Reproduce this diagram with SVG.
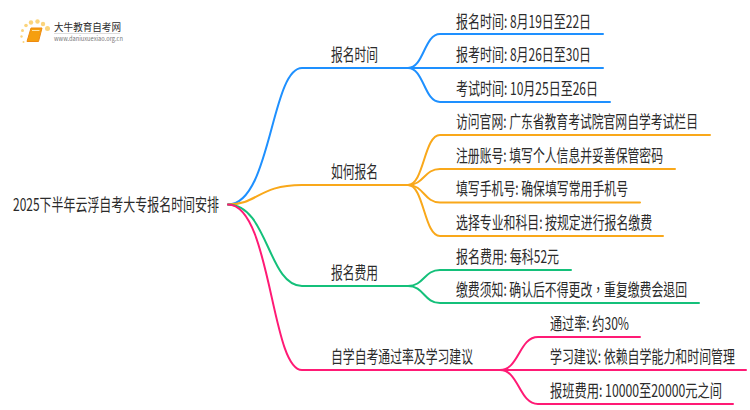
<svg xmlns="http://www.w3.org/2000/svg" width="750" height="410" viewBox="0 0 750 410">
<style>
text{font-family:"Noto Sans CJK SC","Noto Sans",sans-serif;font-size:17.5px;fill:#2b2b2b}
.c{fill:none;stroke-width:2;stroke-linecap:round}
.b{stroke:#1e90ff}.o{stroke:#f9a81a}.g{stroke:#14c07a}.p{stroke:#ff1a75}
</style>
<rect width="750" height="410" fill="#fff"/>
<g id="connectors">
<path class="c b" d="M228 204.500C271 204.500 271 68 302 68H408"/>
<path class="c o" d="M228 204.500C258 204.500 258 185 302 185H408"/>
<path class="c g" d="M228 204.500C268 204.500 268 286 302 286H408"/>
<path class="c p" d="M228 204.500C271 204.500 271 370 302 370H500"/>
<path class="c b" d="M408 68C424 68 424 34 440 34H603"/>
<path class="c b" d="M408 68H603"/>
<path class="c b" d="M408 68C424 68 424 102 440 102H610"/>
<path class="c o" d="M408 185C424 185 424 135 440 135H710"/>
<path class="c o" d="M408 185C424 185 424 169 440 169H675"/>
<path class="c o" d="M408 185C424 185 424 202.500 440 202.500H640"/>
<path class="c o" d="M408 185C424 185 424 236 440 236H663"/>
<path class="c g" d="M408 286C424 286 424 270 440 270H571"/>
<path class="c g" d="M408 286C424 286 424 303 440 303H699"/>
<path class="c p" d="M500 370C519 370 519 337 538 337H640"/>
<path class="c p" d="M500 370H746"/>
<path class="c p" d="M500 370C519 370 519 404 538 404H733"/>
</g>
<g id="logo">
<g fill="#fbd47c">
<circle cx="47.500" cy="28.500" r="2.500"/><circle cx="43" cy="24" r="2.200"/><circle cx="37.500" cy="21.500" r="2.200"/><circle cx="31" cy="22.500" r="2.200"/><circle cx="26" cy="25.500" r="1.800"/><circle cx="22.500" cy="30.500" r="1.500"/><circle cx="21.500" cy="36.500" r="1.200"/><circle cx="23.500" cy="42" r="1"/>
</g>
<path d="M31 28H42L38.500 41.500H27Z" fill="#f59f0f" stroke="#ee8a10" stroke-width="1"/>
<path d="M32 30.500H39.500" stroke="#fde3a8" stroke-width="1"/>
<text x="54" y="31" textLength="67" lengthAdjust="spacingAndGlyphs" style="font-size:10px">大牛教育自考网</text>
<path d="M54 33.500H120" stroke="#ddd" stroke-width="1"/>
<text x="54" y="41" textLength="69" lengthAdjust="spacingAndGlyphs" style="font-size:6.500px;fill:#777">www.daniuxuexiao.org.cn</text>
</g>
<g id="root"><text transform="scale(.69 1)" x="18.840" y="211.500" textLength="298.600" lengthAdjust="spacingAndGlyphs">2025下半年云浮自考大专报名时间安排</text></g>
<g id="n1"><text transform="scale(.69 1)" x="479.710" y="61.500" textLength="68.100" lengthAdjust="spacingAndGlyphs">报名时间</text></g>
<g id="n1a"><text transform="scale(.69 1)" x="660.870" y="28" textLength="195.700" lengthAdjust="spacingAndGlyphs">报名时间: 8月19日至22日</text></g>
<g id="n1b"><text transform="scale(.69 1)" x="660.870" y="61.500" textLength="195.700" lengthAdjust="spacingAndGlyphs">报考时间: 8月26日至30日</text></g>
<g id="n1c"><text transform="scale(.69 1)" x="660.870" y="95.500" textLength="205.800" lengthAdjust="spacingAndGlyphs">考试时间: 10月25日至26日</text></g>
<g id="n2"><text transform="scale(.69 1)" x="479.710" y="178.500" textLength="68.100" lengthAdjust="spacingAndGlyphs">如何报名</text></g>
<g id="n2a"><text transform="scale(.69 1)" x="660.870" y="128.500" textLength="350.700" lengthAdjust="spacingAndGlyphs">访问官网: 广东省教育考试院官网自学考试栏目</text></g>
<g id="n2b"><text transform="scale(.69 1)" x="660.870" y="162.500" textLength="300" lengthAdjust="spacingAndGlyphs">注册账号: 填写个人信息并妥善保管密码</text></g>
<g id="n2c"><text transform="scale(.69 1)" x="660.870" y="195.500" textLength="249.300" lengthAdjust="spacingAndGlyphs">填写手机号: 确保填写常用手机号</text></g>
<g id="n2d"><text transform="scale(.69 1)" x="660.870" y="229.500" textLength="284.100" lengthAdjust="spacingAndGlyphs">选择专业和科目: 按规定进行报名缴费</text></g>
<g id="n3"><text transform="scale(.69 1)" x="479.710" y="279.500" textLength="68.100" lengthAdjust="spacingAndGlyphs">报名费用</text></g>
<g id="n3a"><text transform="scale(.69 1)" x="660.870" y="263.500" textLength="149.300" lengthAdjust="spacingAndGlyphs">报名费用: 每科52元</text></g>
<g id="n3b"><text transform="scale(.69 1)" x="660.870" y="296.500" textLength="334.800" lengthAdjust="spacingAndGlyphs" style="font-family:'Noto Sans CJK TC',sans-serif">缴费须知: 确认后不得更改，重复缴费会退回</text></g>
<g id="n4"><text transform="scale(.69 1)" x="479.710" y="363.500" textLength="205.800" lengthAdjust="spacingAndGlyphs">自学自考通过率及学习建议</text></g>
<g id="n4a"><text transform="scale(.69 1)" x="797.100" y="330.500" textLength="114.500" lengthAdjust="spacingAndGlyphs">通过率: 约30%</text></g>
<g id="n4b"><text transform="scale(.69 1)" x="797.100" y="363.500" textLength="268.100" lengthAdjust="spacingAndGlyphs">学习建议: 依赖自学能力和时间管理</text></g>
<g id="n4c"><text transform="scale(.69 1)" x="797.100" y="397.500" textLength="249.300" lengthAdjust="spacingAndGlyphs">报班费用: 10000至20000元之间</text></g>
</svg>
